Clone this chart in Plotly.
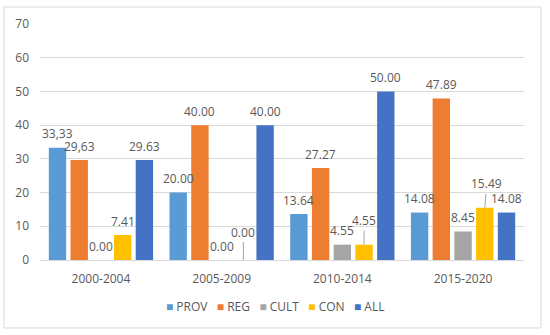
import plotly.graph_objects as go

categories = ["2000-2004", "2005-2009", "2010-2014", "2015-2020"]
series_names = ["PROV", "REG", "CULT", "CON", "ALL"]
prov = [33.33, 20.00, 13.64, 14.08]
reg = [29.63, 40.00, 27.27, 47.89]
cult = [0.00, 0.00, 4.55, 8.45]
con = [7.41, 0.00, 4.55, 15.49]
all_ = [29.63, 40.00, 50.00, 14.08]
series_values = [prov, reg, cult, con, all_]
colors = ["#5B9BD5", "#ED7D31", "#A5A5A5", "#FFC000", "#4472C4"]

# labels written with a decimal comma in the original (series index, group index)
comma_labels = {(0, 0), (1, 0)}
# labels lifted with a leader line: (series, group) -> (dx, dy) in px
leader_labels = {(3, 1): (0, -28), (3, 2): (0, -24), (3, 3): (2, -24)}

FONT = "Open Sans, Noto Sans, sans-serif"
TXT = "#595959"
BARGAP = 0.1
GROUPGAP = 0.2

fig = go.Figure()
for name, vals, col in zip(series_names, series_values, colors):
    fig.add_trace(go.Bar(name=name, x=categories, y=vals, marker_color=col,
                         marker_line_width=0, showlegend=False, hoverinfo="skip"))

slot = (1 - BARGAP) / len(series_names)
annotations = []
for si, vals in enumerate(series_values):
    for gi, v in enumerate(vals):
        label = f"{v:.2f}"
        if (si, gi) in comma_labels:
            label = label.replace(".", ",")
        xpos = gi + (si - (len(series_names) - 1) / 2) * slot
        if (si, gi) in leader_labels:
            dx, dy = leader_labels[(si, gi)]
            annotations.append(dict(x=xpos, y=v, xref="x", yref="y", text=label,
                                    showarrow=True, arrowhead=0, arrowwidth=1,
                                    arrowcolor="#A6A6A6", ax=dx, ay=dy,
                                    font=dict(size=12, color=TXT, family=FONT)))
        else:
            annotations.append(dict(x=xpos, y=v, xref="x", yref="y", text=label,
                                    showarrow=False, yshift=14,
                                    font=dict(size=12, color=TXT, family=FONT)))

legend_text = "&nbsp;&nbsp;&nbsp;".join(
    f'<span style="color:{c};font-size:12px">■</span> {n}'
    for n, c in zip(series_names, colors))
annotations.append(dict(x=0.4855, y=-0.199, xref="paper", yref="paper",
                        text=legend_text, showarrow=False, xanchor="center",
                        yanchor="middle", font=dict(size=12, color=TXT, family=FONT)))

fig.update_layout(
    width=550, height=335,
    margin=dict(l=40, r=26, t=24, b=75),
    paper_bgcolor="white", plot_bgcolor="white",
    barmode="group", bargap=BARGAP, bargroupgap=GROUPGAP,
    font=dict(family=FONT, size=12, color=TXT),
    annotations=annotations,
    shapes=[dict(type="rect", xref="paper", yref="paper",
                 x0=-0.0744, x1=1.035, y0=-0.288, y1=1.072,
                 line=dict(color="#D9D9D9", width=1), fillcolor="rgba(0,0,0,0)")],
)
fig.update_yaxes(range=[0, 70], dtick=10, showgrid=True, gridcolor="#D9D9D9",
                 gridwidth=1, zeroline=False, showline=False,
                 ticklabelstandoff=10, tickfont=dict(size=12, color=TXT))
fig.update_xaxes(showline=True, linecolor="#D9D9D9", linewidth=1,
                 ticklabelstandoff=8, tickfont=dict(size=12, color=TXT))

fig.write_html("out.html", config={"displayModeBar": False},
               post_script="document.body.style.margin='0';"
                           "document.body.style.overflow='hidden';")
